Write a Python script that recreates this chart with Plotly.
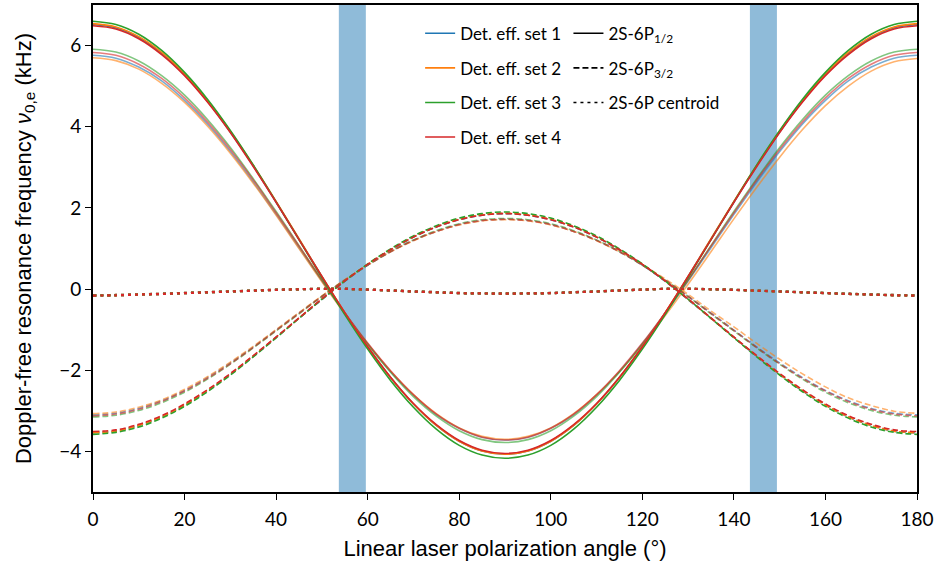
import plotly.graph_objects as go

# ---------------- data ----------------
angles = [0, 5, 10, 15, 20, 25, 30, 35, 40, 45, 50, 55, 60, 65, 70, 75, 80, 85, 90,
          95, 100, 105, 110, 115, 120, 125, 130, 135, 140, 145, 150, 155, 160, 165, 170, 175, 180]

set_names = ["Det. eff. set 1", "Det. eff. set 2", "Det. eff. set 3", "Det. eff. set 4"]
set_colors = ["#1f77b4", "#ff7f0e", "#2ca02c", "#d62728"]
set_colors_light = ["rgba(31,119,180,0.6)", "rgba(255,127,14,0.6)",
                    "rgba(44,160,44,0.6)", "rgba(214,39,40,0.6)"]

# 2S-6P1/2, darker variant
p12_dark_set1 = [6.52, 6.44, 6.20, 5.81, 5.28, 4.63, 3.87, 3.04, 2.14, 1.23, 0.31, -0.59, -1.42, -2.18, -2.83, -3.36, -3.75, -3.99, -4.07,
                 -3.99, -3.75, -3.36, -2.83, -2.18, -1.42, -0.59, 0.31, 1.23, 2.14, 3.04, 3.87, 4.63, 5.28, 5.81, 6.20, 6.44, 6.52]
p12_dark_set2 = [6.54, 6.46, 6.22, 5.83, 5.30, 4.65, 3.89, 3.05, 2.16, 1.24, 0.31, -0.58, -1.42, -2.18, -2.83, -3.36, -3.75, -3.99, -4.07,
                 -3.99, -3.75, -3.36, -2.83, -2.18, -1.42, -0.58, 0.31, 1.24, 2.16, 3.05, 3.89, 4.65, 5.30, 5.83, 6.22, 6.46, 6.54]
p12_dark_set3 = [6.60, 6.52, 6.28, 5.88, 5.34, 4.68, 3.91, 3.06, 2.15, 1.22, 0.28, -0.63, -1.48, -2.25, -2.91, -3.45, -3.85, -4.09, -4.17,
                 -4.09, -3.85, -3.45, -2.91, -2.25, -1.48, -0.63, 0.28, 1.22, 2.15, 3.06, 3.91, 4.68, 5.34, 5.88, 6.28, 6.52, 6.60]
p12_dark_set4 = [6.49, 6.41, 6.17, 5.78, 5.26, 4.61, 3.86, 3.02, 2.14, 1.22, 0.31, -0.58, -1.42, -2.17, -2.82, -3.34, -3.73, -3.97, -4.05,
                 -3.97, -3.73, -3.34, -2.82, -2.17, -1.42, -0.58, 0.31, 1.22, 2.14, 3.02, 3.86, 4.61, 5.26, 5.78, 6.17, 6.41, 6.49]

# 2S-6P1/2, lighter variant
p12_light_set1 = [5.76, 5.69, 5.47, 5.13, 4.65, 4.07, 3.39, 2.64, 1.84, 1.02, 0.20, -0.60, -1.35, -2.03, -2.61, -3.09, -3.43, -3.65, -3.72,
                  -3.65, -3.43, -3.09, -2.61, -2.03, -1.35, -0.60, 0.20, 1.02, 1.84, 2.64, 3.39, 4.07, 4.65, 5.13, 5.47, 5.69, 5.76]
p12_light_set2 = [5.70, 5.63, 5.42, 5.07, 4.60, 4.02, 3.35, 2.61, 1.82, 1.00, 0.18, -0.61, -1.35, -2.02, -2.60, -3.07, -3.42, -3.63, -3.70,
                  -3.63, -3.42, -3.07, -2.60, -2.03, -1.37, -0.65, 0.12, 0.92, 1.73, 2.51, 3.25, 3.93, 4.52, 5.00, 5.37, 5.60, 5.68]
p12_light_set3 = [5.91, 5.84, 5.62, 5.26, 4.78, 4.18, 3.49, 2.72, 1.91, 1.07, 0.22, -0.59, -1.36, -2.05, -2.65, -3.13, -3.49, -3.71, -3.78,
                  -3.71, -3.49, -3.13, -2.65, -2.05, -1.36, -0.59, 0.22, 1.07, 1.91, 2.72, 3.49, 4.18, 4.78, 5.26, 5.62, 5.84, 5.91]
p12_light_set4 = [5.83, 5.76, 5.54, 5.19, 4.71, 4.12, 3.44, 2.69, 1.88, 1.06, 0.23, -0.58, -1.33, -2.01, -2.60, -3.08, -3.43, -3.65, -3.72,
                  -3.65, -3.43, -3.08, -2.60, -2.01, -1.33, -0.58, 0.23, 1.06, 1.88, 2.69, 3.44, 4.12, 4.71, 5.19, 5.54, 5.76, 5.83]

# 2S-6P3/2, darker variant
p32_dark_set1 = [-3.54, -3.50, -3.36, -3.15, -2.86, -2.51, -2.10, -1.66, -1.19, -0.72, -0.26, 0.19, 0.60, 0.97, 1.28, 1.53, 1.71, 1.82, 1.86,
                 1.82, 1.71, 1.53, 1.28, 0.97, 0.60, 0.19, -0.26, -0.72, -1.19, -1.66, -2.10, -2.51, -2.86, -3.15, -3.36, -3.50, -3.54]
p32_dark_set2 = [-3.54, -3.50, -3.36, -3.15, -2.86, -2.50, -2.10, -1.65, -1.19, -0.72, -0.25, 0.20, 0.61, 0.97, 1.29, 1.54, 1.72, 1.83, 1.87,
                 1.83, 1.72, 1.54, 1.29, 0.97, 0.61, 0.20, -0.25, -0.72, -1.19, -1.65, -2.10, -2.50, -2.86, -3.15, -3.36, -3.50, -3.54]
p32_dark_set3 = [-3.58, -3.53, -3.40, -3.18, -2.89, -2.53, -2.12, -1.67, -1.20, -0.72, -0.25, 0.20, 0.62, 0.99, 1.31, 1.56, 1.75, 1.86, 1.90,
                 1.86, 1.75, 1.56, 1.31, 0.99, 0.62, 0.20, -0.25, -0.72, -1.20, -1.67, -2.12, -2.53, -2.89, -3.18, -3.40, -3.53, -3.58]
p32_dark_set4 = [-3.51, -3.47, -3.33, -3.12, -2.83, -2.48, -2.08, -1.64, -1.18, -0.71, -0.24, 0.20, 0.61, 0.97, 1.28, 1.53, 1.71, 1.82, 1.86,
                 1.82, 1.71, 1.53, 1.28, 0.97, 0.61, 0.20, -0.24, -0.71, -1.18, -1.64, -2.08, -2.48, -2.83, -3.12, -3.33, -3.47, -3.51]

# 2S-6P3/2, lighter variant
p32_light_set1 = [-3.10, -3.06, -2.94, -2.75, -2.50, -2.18, -1.82, -1.43, -1.01, -0.59, -0.18, 0.22, 0.59, 0.92, 1.20, 1.42, 1.59, 1.69, 1.72,
                  1.69, 1.59, 1.42, 1.20, 0.92, 0.59, 0.22, -0.18, -0.59, -1.01, -1.43, -1.82, -2.18, -2.50, -2.75, -2.94, -3.06, -3.10]
p32_light_set2 = [-3.07, -3.03, -2.91, -2.73, -2.47, -2.16, -1.80, -1.41, -1.00, -0.58, -0.17, 0.23, 0.59, 0.92, 1.19, 1.42, 1.58, 1.68, 1.71,
                  1.68, 1.58, 1.42, 1.19, 0.92, 0.60, 0.25, -0.13, -0.54, -0.93, -1.34, -1.73, -2.09, -2.41, -2.68, -2.87, -3.01, -3.06]
p32_light_set3 = [-3.15, -3.11, -2.99, -2.80, -2.54, -2.22, -1.85, -1.45, -1.03, -0.61, -0.18, 0.22, 0.59, 0.93, 1.21, 1.44, 1.61, 1.71, 1.74,
                  1.71, 1.61, 1.44, 1.21, 0.93, 0.59, 0.22, -0.18, -0.61, -1.03, -1.45, -1.85, -2.22, -2.54, -2.80, -2.99, -3.11, -3.15]
p32_light_set4 = [-3.12, -3.08, -2.96, -2.77, -2.51, -2.20, -1.84, -1.44, -1.02, -0.60, -0.18, 0.22, 0.59, 0.92, 1.20, 1.42, 1.59, 1.69, 1.72,
                  1.69, 1.59, 1.42, 1.20, 0.92, 0.59, 0.22, -0.18, -0.60, -1.02, -1.44, -1.84, -2.20, -2.51, -2.77, -2.96, -3.08, -3.12]

# 2S-6P centroid (the sets overlap)
centroid_dark = [-0.16, -0.153, -0.135, -0.12, -0.10, -0.08, -0.06, -0.04, -0.02, -0.005, 0.005, 0.005, -0.015, -0.035, -0.06, -0.08, -0.10, -0.108, -0.11,
                 -0.108, -0.10, -0.08, -0.06, -0.035, -0.015, 0.005, 0.005, -0.005, -0.02, -0.04, -0.06, -0.08, -0.10, -0.12, -0.135, -0.153, -0.16]
centroid_light = [-0.15, -0.145, -0.13, -0.113, -0.095, -0.075, -0.055, -0.035, -0.015, 0.0, 0.005, 0.005, -0.012, -0.032, -0.055, -0.075, -0.095, -0.102, -0.105,
                  -0.102, -0.095, -0.075, -0.055, -0.032, -0.012, 0.005, 0.005, 0.0, -0.015, -0.035, -0.055, -0.075, -0.095, -0.113, -0.13, -0.145, -0.15]

# shaded angle bands
band_starts = [53.7, 143.5]
band_ends = [59.6, 149.4]

x_ticks = [0, 20, 40, 60, 80, 100, 120, 140, 160, 180]
y_ticks = [-4, -2, 0, 2, 4, 6]
y_ticktext = ["−4", "−2", "0", "2", "4", "6"]

style_names = ["2S-6P<sub>1/2</sub>", "2S-6P<sub>3/2</sub>", "2S-6P centroid"]

# ---------------- figure ----------------
p12_dark = [p12_dark_set1, p12_dark_set2, p12_dark_set3, p12_dark_set4]
p12_light = [p12_light_set1, p12_light_set2, p12_light_set3, p12_light_set4]
p32_dark = [p32_dark_set1, p32_dark_set2, p32_dark_set3, p32_dark_set4]
p32_light = [p32_light_set1, p32_light_set2, p32_light_set3, p32_light_set4]

LW = 1.6
DASH = "6px,3px"
DOT = "3px,4px"

fig = go.Figure()

for i in range(4):
    fig.add_trace(go.Scatter(x=angles, y=p12_light[i], mode="lines", line_shape="spline",
                             line=dict(color=set_colors_light[i], width=LW), showlegend=False,
                             hoverinfo="skip"))
    fig.add_trace(go.Scatter(x=angles, y=p32_light[i], mode="lines", line_shape="spline",
                             line=dict(color=set_colors_light[i], width=LW, dash=DASH),
                             showlegend=False, hoverinfo="skip"))

for i in range(4):
    fig.add_trace(go.Scatter(x=angles, y=p12_dark[i], mode="lines", line_shape="spline",
                             line=dict(color=set_colors[i], width=LW), name=set_names[i],
                             legend="legend", legendgroup="s%d" % i, showlegend=True))
    fig.add_trace(go.Scatter(x=angles, y=p32_dark[i], mode="lines", line_shape="spline",
                             line=dict(color=set_colors[i], width=LW, dash=DASH),
                             showlegend=False))

for i in range(4):
    fig.add_trace(go.Scatter(x=angles, y=centroid_light, mode="lines", line_shape="spline",
                             line=dict(color=set_colors_light[i], width=2.2, dash=DOT),
                             showlegend=False, hoverinfo="skip"))
for i in range(4):
    fig.add_trace(go.Scatter(x=angles, y=centroid_dark, mode="lines", line_shape="spline",
                             line=dict(color=set_colors[i], width=2.2, dash=DOT),
                             showlegend=False))

# line-style legend entries
for name, dash, gid in zip(style_names, ["solid", DASH, DOT], ["t0", "t1", "t2"]):
    fig.add_trace(go.Scatter(x=[None], y=[None], mode="lines", name=name,
                             line=dict(color="black", width=LW, dash=dash),
                             legend="legend2", legendgroup=gid, showlegend=True))

for x0, x1 in zip(band_starts, band_ends):
    fig.add_shape(type="rect", xref="x", yref="paper", x0=x0, x1=x1, y0=0, y1=1,
                  fillcolor="#8fbbd9", line_width=0, layer="below")

tick_font = dict(family="Lato, sans-serif", size=19, color="black")
title_font = dict(family="Liberation Sans, Arial, sans-serif", size=22, color="black")
legend_font = dict(family="Lato, sans-serif", size=17, color="black")

fig.update_layout(
    width=938, height=570,
    margin=dict(l=93, r=21, t=5, b=78, autoexpand=False),
    plot_bgcolor="white", paper_bgcolor="white",
    xaxis=dict(range=[0, 180], tickvals=x_ticks, ticks="outside", ticklen=6, tickwidth=1.3,
               tickcolor="black", showline=True, linecolor="black", linewidth=1.6, mirror=True,
               showgrid=False, zeroline=False, tickfont=tick_font, automargin=False,
               ticklabelstandoff=3,
               title=dict(text="Linear laser polarization angle (°)", font=title_font, standoff=12)),
    yaxis=dict(range=[-5, 7], tickvals=y_ticks, ticktext=y_ticktext,
               ticks="outside", ticklen=6, tickwidth=1.3,
               tickcolor="black", showline=True, linecolor="black", linewidth=1.6, mirror=True,
               showgrid=False, zeroline=False, tickfont=tick_font, automargin=False,
               title=dict(text="Doppler-free resonance frequency <i>ν</i><sub>0,e</sub> (kHz)",
                          font=title_font, standoff=22)),
    legend=dict(x=0.397, y=0.978, xanchor="left", yanchor="top", bgcolor="rgba(0,0,0,0)",
                font=legend_font, tracegroupgap=9.5, itemwidth=30),
    legend2=dict(x=0.577, y=0.978, xanchor="left", yanchor="top", bgcolor="rgba(0,0,0,0)",
                 font=legend_font, tracegroupgap=9.5, itemwidth=30),
)

fig.write_html("out.html", config={"displayModeBar": False},
               post_script="document.body.style.margin='0px';")
